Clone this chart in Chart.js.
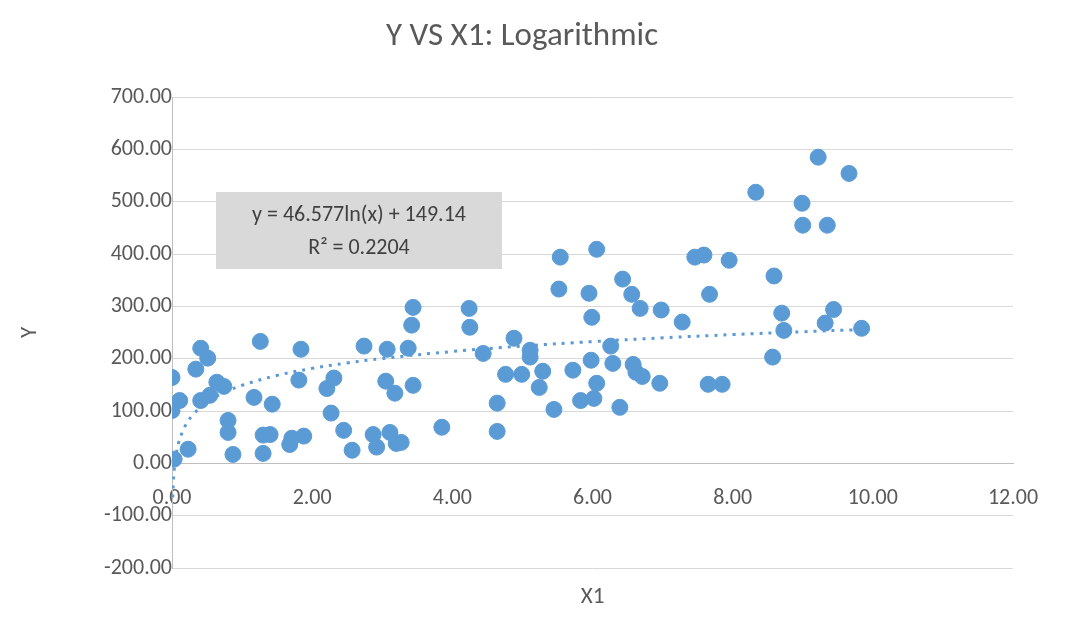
<!DOCTYPE html>
<html><head><meta charset="utf-8">
<script src="https://cdn.jsdelivr.net/npm/chart.js@4/dist/chart.umd.min.js"></script>
<style>body{margin:0;background:#fff}#wrap{width:1065px;height:626px}</style>
</head><body><div id="wrap"><canvas id="c"></canvas></div>
<script>
// Valores (X1, Y)
const xValues = [0.0,0.0,0.03,0.11,0.23,0.34,0.41,0.41,0.51,0.54,0.64,0.74,0.80,0.80,0.87,1.17,1.26,1.30,1.30,1.40,1.43,1.68,1.71,1.81,1.84,1.88,2.21,2.27,2.31,2.45,2.57,2.74,2.87,2.92,3.05,3.07,3.11,3.18,3.20,3.27,3.37,3.42,3.44,3.44,3.85,4.24,4.25,4.44,4.64,4.64,4.76,4.88,4.99,5.11,5.11,5.24,5.29,5.45,5.52,5.54,5.72,5.83,5.95,5.98,5.99,6.02,6.06,6.06,6.26,6.29,6.39,6.43,6.56,6.58,6.62,6.68,6.71,6.96,6.98,7.28,7.46,7.59,7.65,7.67,7.85,7.95,8.33,8.57,8.59,8.70,8.73,8.99,9.00,9.22,9.32,9.35,9.44,9.66,9.84];
const yValues = [164,101,8,120,27,180,220,120,201,130,155,147,82,59,17,126,233,54,19,55,113,36,48,159,218,52,143,96,163,63,25,224,55,31,157,218,59,134,38,40,220,264,298,149,69,296,260,210,115,61,170,239,170,216,203,145,176,103,333,394,178,120,325,197,279,124,409,153,224,191,107,352,323,189,174,296,166,153,293,270,394,398,151,323,151,388,518,203,358,287,254,497,455,585,268,455,294,554,258];
const trendA = 46.577, trendB = 149.14, r2 = 0.2204;
const trendX = [0.01,0.02,0.04,0.07,0.1,0.15,0.2,0.3,0.5,0.75,1,1.5,2,2.5,3,4,5,6,7,8,9,9.84];

const points = xValues.map((x, i) => ({ x, y: yValues[i] }));
const trend = trendX.map(x => ({ x, y: trendA * Math.log(x) + trendB }));
const font = 'Calibri, Carlito, "Open Sans", sans-serif';
const grey = '#595959';

const extras = {
  id: 'extras',
  afterDraw(chart) {
    const c = chart.ctx, a = chart.chartArea;
    c.save();
    c.fillStyle = grey;
    c.textAlign = 'center'; c.textBaseline = 'middle';
    c.font = '33px ' + font;
    c.fillText('Y VS X1: Logarithmic', 522, 37);
    c.font = '23px ' + font;
    c.fillText('X1', (a.left + a.right) / 2, 597);
    c.save(); c.translate(30, (a.top + a.bottom) / 2); c.rotate(-Math.PI / 2);
    c.fillText('Y', 0, 0); c.restore();
    // caixa da equação
    c.fillStyle = '#d9d9d9';
    c.fillRect(216, 192, 286, 77);
    c.fillStyle = '#404040';
    c.font = '22px ' + font;
    c.fillText('y = ' + trendA + 'ln(x) + ' + trendB, 359, 215);
    c.fillText('R\u00b2 = ' + r2, 359, 248);
    c.restore();
  }
};

new Chart(document.getElementById('c'), {
  type: 'scatter',
  data: {
    datasets: [
      { data: points, backgroundColor: '#5b9bd5', borderColor: '#5b9bd5', pointRadius: 8, pointHoverRadius: 8 },
      { type: 'line', data: trend, borderColor: '#5b9bd5', borderWidth: 3, borderDash: [3, 6], pointRadius: 0, fill: false, tension: 0.4 }
    ]
  },
  options: {
    responsive: true, maintainAspectRatio: false, animation: false,
    layout: { padding: { left: 172, right: 52, top: 97, bottom: 58 } },
    plugins: { legend: { display: false }, tooltip: { enabled: false } },
    scales: {
      x: {
        type: 'linear', min: 0, max: 12, position: { y: 0 },
        ticks: { stepSize: 2, color: grey, font: { size: 22, family: font }, padding: 14, callback: v => v.toFixed(2) },
        grid: { display: false }, border: { color: '#bfbfbf' }
      },
      y: {
        min: -200, max: 700, position: { x: 0 },
        ticks: { stepSize: 100, color: grey, font: { size: 22, family: font }, padding: 26, callback: v => v.toFixed(2) },
        grid: { color: '#d9d9d9', drawTicks: true, tickLength: 0 }, border: { color: '#bfbfbf' }
      }
    }
  },
  plugins: [extras]
});
</script></body></html>
